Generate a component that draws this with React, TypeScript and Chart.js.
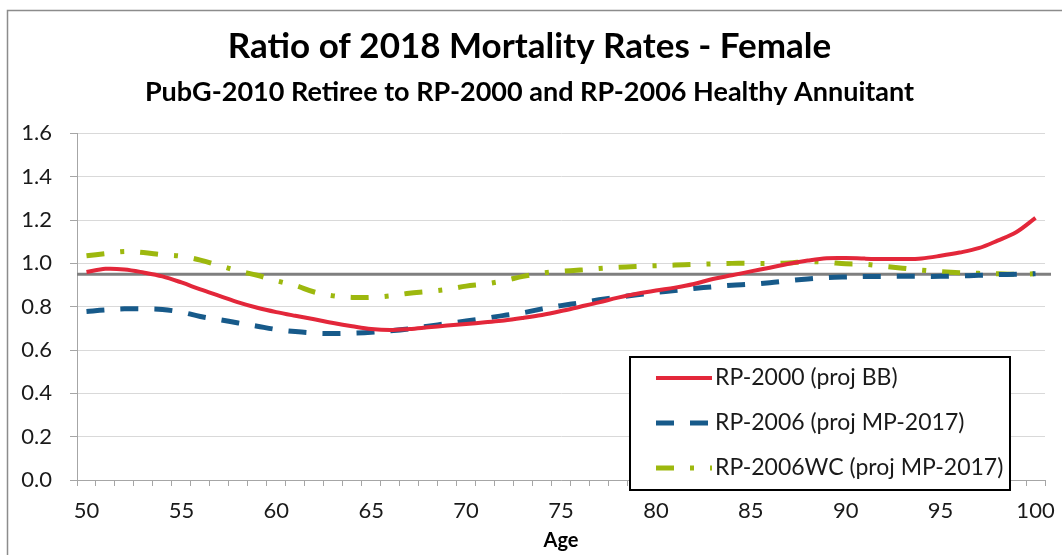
import React, { useEffect, useRef } from "react";
import { Chart, registerables } from "chart.js";

Chart.register(...registerables);

const ages = [
  50, 51, 52, 53, 54, 55, 56, 57, 58, 59,
  60, 61, 62, 63, 64, 65, 66, 67, 68, 69,
  70, 71, 72, 73, 74, 75, 76, 77, 78, 79,
  80, 81, 82, 83, 84, 85, 86, 87, 88, 89,
  90, 91, 92, 93, 94, 95, 96, 97, 98, 99, 100,
];

const rp2000 = [
  0.96, 0.975, 0.972, 0.958, 0.94, 0.912, 0.88, 0.85, 0.82, 0.795,
  0.775, 0.758, 0.742, 0.725, 0.71, 0.697, 0.692, 0.697, 0.705, 0.713,
  0.72, 0.728, 0.736, 0.748, 0.762, 0.78, 0.8, 0.82, 0.842, 0.86,
  0.875, 0.888, 0.905, 0.928, 0.945, 0.963, 0.98, 0.998, 1.013, 1.024,
  1.025, 1.022, 1.02, 1.02, 1.023, 1.035, 1.05, 1.07, 1.105, 1.145, 1.21,
];

const rp2006 = [
  0.778, 0.785, 0.79, 0.79, 0.787, 0.775, 0.755, 0.74, 0.725, 0.71,
  0.695, 0.685, 0.678, 0.676, 0.678, 0.682, 0.689, 0.698, 0.71, 0.722,
  0.734, 0.746, 0.76, 0.772, 0.79, 0.805, 0.818, 0.832, 0.844, 0.855,
  0.866, 0.875, 0.884, 0.892, 0.899, 0.904, 0.911, 0.92, 0.928, 0.934,
  0.937, 0.939, 0.94, 0.94, 0.94, 0.94, 0.942, 0.945, 0.948, 0.95, 0.952,
];

const rp2006wc = [
  1.035, 1.045, 1.055, 1.05, 1.04, 1.033, 1.015, 0.99, 0.965, 0.945,
  0.92, 0.898, 0.868, 0.85, 0.843, 0.843, 0.85, 0.862, 0.87, 0.88,
  0.895, 0.905, 0.92, 0.94, 0.955, 0.963, 0.969, 0.976, 0.982, 0.986,
  0.989, 0.992, 0.995, 0.998, 1.0, 1.0, 1.0, 1.002, 1.008, 1.005,
  0.998, 0.996, 0.987, 0.978, 0.969, 0.962, 0.957, 0.954, 0.952, 0.95, 0.952,
];

const seriesNames = ["RP-2000 (proj BB)", "RP-2006 (proj MP-2017)", "RP-2006WC (proj MP-2017)"];
const referenceLevel = 0.95;
const yTicks = [0, 0.2, 0.4, 0.6, 0.8, 1.0, 1.2, 1.4, 1.6];

const titleText = "Ratio of 2018 Mortality Rates - Female";
const subtitleText = "PubG-2010 Retiree to RP-2000 and RP-2006 Healthy Annuitant";
const xTitle = "Age";

const FONT = "Lato, 'Open Sans', sans-serif";
const RED = "#E3273A";
const BLUE = "#175A8A";
const GREEN = "#9DB80E";
const REF_GRAY = "#7F7F7F";

const bgPlugin = {
  id: "bgFrame",
  beforeDraw(chart: any) {
    const ctx = chart.ctx;
    ctx.save();
    ctx.fillStyle = "#ffffff";
    ctx.fillRect(0, 0, chart.width, chart.height);
    ctx.strokeStyle = "#8c8c8c";
    ctx.lineWidth = 1.5;
    ctx.strokeRect(7.5, 10.5, chart.width + 20, chart.height + 20);
    ctx.restore();
  },
};

const refLinePlugin = {
  id: "refLine",
  beforeDatasetsDraw(chart: any) {
    const { ctx, chartArea, scales } = chart;
    const y = scales.y.getPixelForValue(referenceLevel);
    ctx.save();
    ctx.strokeStyle = REF_GRAY;
    ctx.lineWidth = 3;
    ctx.beginPath();
    ctx.moveTo(chartArea.left, y);
    ctx.lineTo(chartArea.right + 6, y);
    ctx.stroke();
    ctx.restore();
  },
};

const legendPlugin = {
  id: "boxLegend",
  afterDraw(chart: any) {
    const { ctx, chartArea } = chart;
    const left = chartArea.right - 415;
    const top = chartArea.bottom - 123;
    const w = 380;
    const h = 133;
    ctx.save();
    ctx.fillStyle = "#ffffff";
    ctx.fillRect(left, top, w, h);
    ctx.strokeStyle = "#000000";
    ctx.lineWidth = 2;
    ctx.strokeRect(left, top, w, h);
    const rows = [21, 66, 111];
    chart.data.datasets.forEach((ds: any, i: number) => {
      const y = top + rows[i];
      ctx.save();
      ctx.strokeStyle = ds.borderColor;
      ctx.lineWidth = ds.borderWidth;
      ctx.setLineDash(ds.borderDash || []);
      ctx.lineDashOffset = 0;
      ctx.beginPath();
      ctx.moveTo(left + 26, y);
      ctx.lineTo(left + 82, y);
      ctx.stroke();
      ctx.restore();
      ctx.fillStyle = "#1a1a1a";
      ctx.font = `23px ${FONT}`;
      ctx.textBaseline = "middle";
      ctx.textAlign = "left";
      ctx.fillText(ds.label, left + 85, y);
    });
    ctx.restore();
  },
};

export default function App() {
  const ref = useRef<HTMLCanvasElement | null>(null);

  useEffect(() => {
    document.body.style.margin = "0";
    const canvas = ref.current;
    if (!canvas) return;
    const chart = new Chart(canvas, {
      type: "line",
      data: {
        labels: ages.map(String),
        datasets: [
          {
            label: seriesNames[0],
            data: rp2000,
            borderColor: RED,
            backgroundColor: RED,
            borderWidth: 4,
            pointRadius: 0,
            tension: 0.35,
          },
          {
            label: seriesNames[1],
            data: rp2006,
            borderColor: BLUE,
            backgroundColor: BLUE,
            borderWidth: 5,
            borderDash: [18, 16],
            pointRadius: 0,
            tension: 0.35,
          },
          {
            label: seriesNames[2],
            data: rp2006wc,
            borderColor: GREEN,
            backgroundColor: GREEN,
            borderWidth: 5,
            borderDash: [18, 16, 4, 16],
            pointRadius: 0,
            tension: 0.35,
          },
        ],
      },
      options: {
        animation: false,
        responsive: false,
        maintainAspectRatio: false,
        layout: { padding: { left: 14, right: 17, top: 0, bottom: 0 } },
        plugins: {
          legend: { display: false },
          tooltip: { enabled: false },
          title: {
            display: true,
            text: titleText,
            color: "#000000",
            font: { family: FONT, size: 35, weight: "bold" },
            padding: { top: 26, bottom: 6 },
          },
          subtitle: {
            display: true,
            text: subtitleText,
            color: "#000000",
            font: { family: FONT, size: 27, weight: "bold" },
            padding: { top: 2, bottom: 25 },
          },
        },
        scales: {
          x: {
            type: "category",
            offset: true,
            afterFit: (scale: any) => {
              scale.height = 75;
              scale.paddingRight = 0;
              scale.paddingLeft = 0;
            },
            grid: {
              display: true,
              offset: true,
              drawOnChartArea: false,
              drawTicks: true,
              tickLength: 6,
              tickColor: "#a6a6a6",
            },
            border: { display: true, color: "#a6a6a6", width: 1 },
            ticks: {
              autoSkip: false,
              maxRotation: 0,
              minRotation: 0,
              padding: 12,
              color: "#1a1a1a",
              font: { family: FONT, size: 22 },
              callback: function (this: any, value: any) {
                const a = Number(this.getLabelForValue(value));
                return a % 5 === 0 ? String(a) : "";
              },
            },
            title: {
              display: true,
              text: xTitle,
              color: "#000000",
              font: { family: FONT, size: 20, weight: "bold" },
              padding: { top: 0, bottom: 2 },
            },
          },
          y: {
            min: 0,
            max: 1.6,
            afterBuildTicks: (scale: any) => {
              scale.ticks = yTicks.map((v) => ({ value: v }));
            },
            afterFit: (scale: any) => {
              scale.width = 63;
            },
            grid: {
              color: "#d9d9d9",
              tickColor: "#a6a6a6",
              tickLength: 7,
              drawTicks: true,
            },
            border: { display: true, color: "#a6a6a6", width: 1 },
            ticks: {
              padding: 18,
              color: "#1a1a1a",
              font: { family: FONT, size: 22 },
              callback: (v: any) => Number(v).toFixed(1),
            },
          },
        },
      },
      plugins: [bgPlugin, refLinePlugin, legendPlugin],
    } as any);
    return () => chart.destroy();
  }, []);

  return (
    <div style={{ width: 1062, height: 555 }}>
      <canvas ref={ref} width={1062} height={555} style={{ display: "block", width: 1062, height: 555 }} />
    </div>
  );
}
